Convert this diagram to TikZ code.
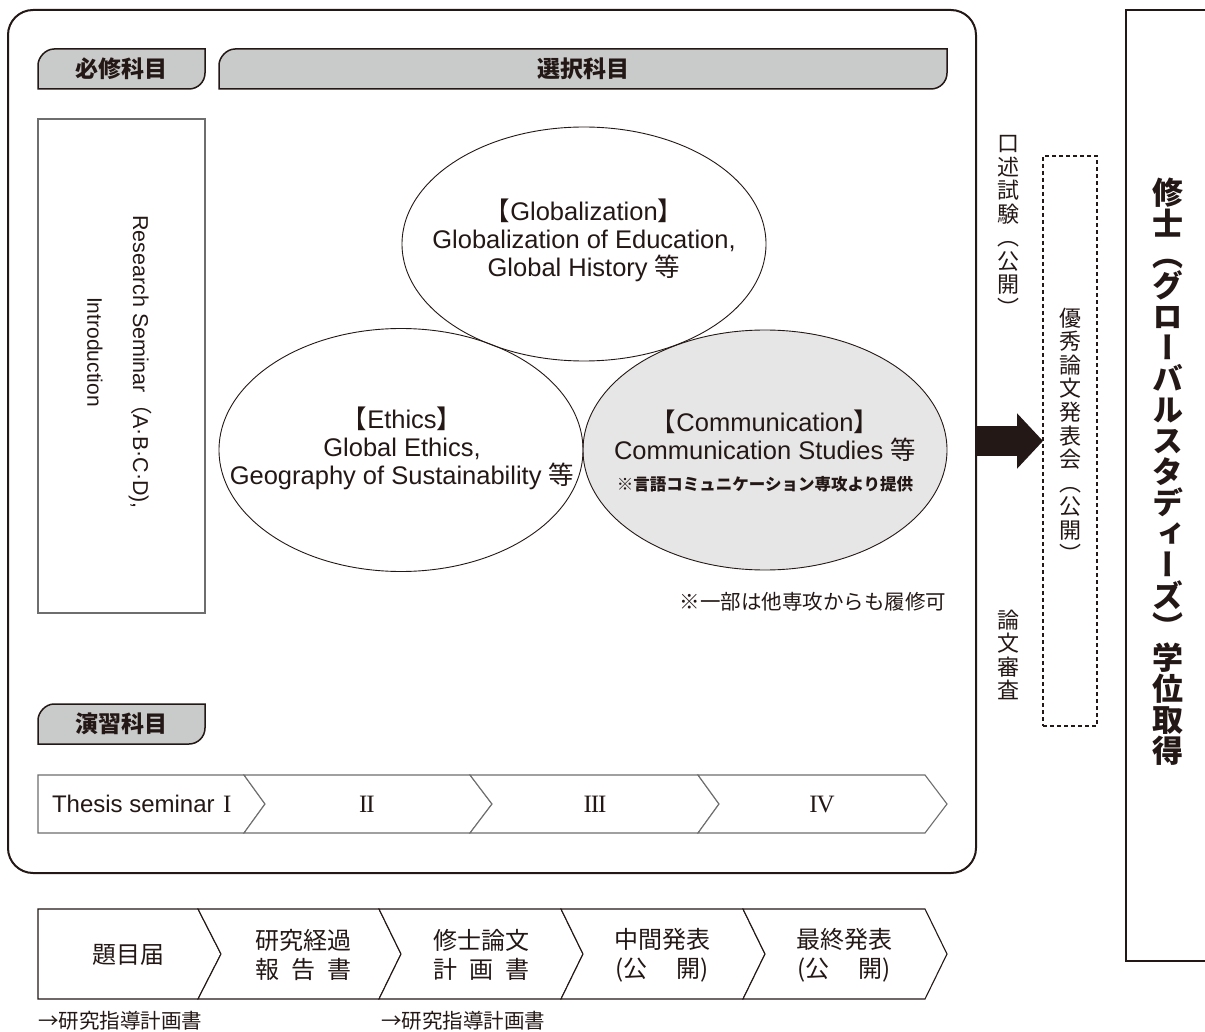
\documentclass[tikz,border=0pt]{standalone}
\usepackage{fontspec}
\setmainfont{Liberation Sans}
\newfontfamily\jp{Noto Sans CJK JP}
\newfontfamily\jpv[RawFeature=+vert]{Noto Sans CJK JP}
\newfontfamily\rmn{Liberation Serif}
\usetikzlibrary{shapes.geometric,arrows.meta}
\definecolor{ink}{HTML}{231815}
\definecolor{tabgray}{HTML}{C9CACA}
\definecolor{commgray}{HTML}{E6E6E6}
\definecolor{linegray}{HTML}{6E6E6E}
\newcommand\fsz[2]{\fontsize{#1}{#2}\selectfont}
\newcommand\rj{\kern-0.045em}
\begin{document}
\begin{tikzpicture}[x=1pt,y=-1pt,
  every node/.style={inner sep=0pt, outer sep=0pt, text=ink},
  tabshape/.style={fill=tabgray, draw=ink, line width=1.5pt},
  tabtext/.style={font=\jp\bfseries\fsz{23}{26}},
  oval/.style={ellipse, draw=ink, line width=0.9pt, minimum width=364pt, minimum height=240pt},
  ovaltext/.style={align=center, font=\fsz{25.5}{28}},
  chev/.style={draw=linegray, line width=1.1pt, fill=white, line join=miter},
  flow/.style={draw=ink, line width=1.1pt, fill=white, line join=miter},
  chevtext/.style={font=\fsz{24}{28}},
  romantext/.style={font=\rmn\fsz{25}{28}},
  flowtext/.style={align=center, font=\jp\fsz{24}{29}},
  vtext/.style={align=center, font=\jpv\fsz{22}{23.5}},
  bigarrow/.style={ink, line width=30pt, -{Triangle[width=54pt,length=26pt]}},
]
\useasboundingbox (0,0) rectangle (1205,1032);
\fill[white] (0,0) rectangle (1205,1032);

% main frame
\node[draw=ink, line width=2pt, rounded corners=25pt, minimum width=968pt, minimum height=863pt] (main) at (492,441.5) {};

% tabs
\path[tabshape] (38,89) -- (38,65) .. controls (38,57.8) and (45.2,49) .. (54,49) -- (205,49) -- (205,73) .. controls (205,81.8) and (197.8,89) .. (189,89) -- cycle;
\node[tabtext] (t1) at (121.5,69) {必修科目};
\path[tabshape] (219,89) -- (219,65) .. controls (219,57.8) and (226.2,49) .. (235,49) -- (947,49) -- (947,73) .. controls (947,81.8) and (939.8,89) .. (931,89) -- cycle;
\node[tabtext] (t2) at (583,69) {選択科目};
\path[tabshape] (38,744) -- (38,720) .. controls (38,712.8) and (45.2,704) .. (54,704) -- (205,704) -- (205,728) .. controls (205,736.8) and (197.8,744) .. (189,744) -- cycle;
\node[tabtext] (t3) at (121.5,724) {演習科目};

% research seminar box
\node[draw=linegray, line width=1.3pt, minimum width=167pt, minimum height=494pt] (rsbox) at (121.5,366) {};
\node[rotate=-90, font=\fsz{21.5}{24}] (rs1) at (140,362) {Research Seminar{\jp （}A·B·C·D),};
\node[rotate=-90, font=\fsz{21}{24}] (rs2) at (95,352) {Introduction};

% ellipses
\node[oval, fill=commgray] (comm) at (765,450) {};
\node[oval, minimum height=234pt] (glob) at (584,244) {};
\node[oval, minimum height=243pt] (eth) at (401,450) {};
\node[ovaltext] (globt) at (584,240) {{\jp 【}Globalization{\jp 】}\\Globalization of Education,\\Global History {\jp 等}};
\node[ovaltext] (etht) at (402,448) {{\jp 【}Ethics{\jp 】}\\Global Ethics,\\Geography of Sustainability {\jp 等}};
\node[ovaltext] (commt) at (765,435.5) {{\jp 【}Communication{\jp 】}\\Communication Studies {\jp 等}};
\node[font=\jp\bfseries\fsz{16.5}{18}] (commnote) at (765,484) {※言語コミュニケーション専攻より提供};
\node[anchor=east, font=\jp\fsz{20.5}{22}] (note) at (946,602) {※一部は他専攻からも履修可};

% thesis seminar chevrons
\path[chev] (38,775) -- (244,775) -- (265,804) -- (244,833) -- (38,833) -- cycle;
\path[chev] (244,775) -- (470,775) -- (492,804) -- (470,833) -- (244,833) -- (265,804) -- cycle;
\path[chev] (470,775) -- (698,775) -- (719,804) -- (698,833) -- (470,833) -- (492,804) -- cycle;
\path[chev] (698,775) -- (925,775) -- (947,804) -- (925,833) -- (698,833) -- (719,804) -- cycle;
\node[chevtext, anchor=west] (ts1) at (52,804) {Thesis seminar\hspace{0.35em}{\rmn\fsz{25}{28}I}};
\node[romantext] (ts2) at (367,804) {I\rj I};
\node[romantext] (ts3) at (595,804) {I\rj I\rj I};
\node[romantext] (ts4) at (822,804) {I\rj V};

% bottom flow
\path[flow] (38,909) -- (198,909) -- (221,954) -- (198,999) -- (38,999) -- cycle;
\path[flow] (198,909) -- (379,909) -- (401,954) -- (379,999) -- (198,999) -- (221,954) -- cycle;
\path[flow] (379,909) -- (561,909) -- (583,954) -- (561,999) -- (379,999) -- (401,954) -- cycle;
\path[flow] (561,909) -- (743,909) -- (765,954) -- (743,999) -- (561,999) -- (583,954) -- cycle;
\path[flow] (743,909) -- (925,909) -- (947,954) -- (925,999) -- (743,999) -- (765,954) -- cycle;
\node[flowtext] (f1) at (128,955) {題目届};
\node[flowtext] (f2) at (303,955) {研究経過\\報\hspace{0.5em}告\hspace{0.5em}書};
\node[flowtext] (f3) at (481,955) {修士論文\\計\hspace{0.5em}画\hspace{0.5em}書};
\node[flowtext] (f4) at (662,955) {中間発表\\(公\hspace{1.2em}開)};
\node[flowtext] (f5) at (844,955) {最終発表\\(公\hspace{1.2em}開)};
\node[anchor=west, font=\jp\fsz{20.5}{22}] (plan1) at (38,1021) {→研究指導計画書};
\node[anchor=west, font=\jp\fsz{20.5}{22}] (plan2) at (381,1021) {→研究指導計画書};

% right side
\node[vtext] (oral) at (1008,226) {口\\述\\試\\験\\（\\公\\開\\）};
\node[vtext] (review) at (1008,655) {論\\文\\審\\査};
\node[draw=ink, dashed, dash pattern=on 4pt off 3pt, line width=1.5pt, minimum width=54pt, minimum height=570pt] (award) at (1070,441) {};
\node[vtext, font=\jpv\fsz{22}{23.6}] (awardt) at (1070,435) {優\\秀\\論\\文\\発\\表\\会\\（\\公\\開\\）};
\coordinate (ay) at (0,441);
\draw[bigarrow] (main.east |- ay) -- (award.west |- ay);

\node[draw=ink, line width=1.5pt, minimum width=120pt, minimum height=951pt, anchor=north west] (degree) at (1126,10) {};
\node[align=center, font=\jpv\bfseries\fsz{31}{31}] (degt) at (1168,472) {修\\士\\（\\グ\\ロ\\ー\\バ\\ル\\ス\\タ\\デ\\ィ\\ー\\ズ\\）\\学\\位\\取\\得};
\end{tikzpicture}
\end{document}
